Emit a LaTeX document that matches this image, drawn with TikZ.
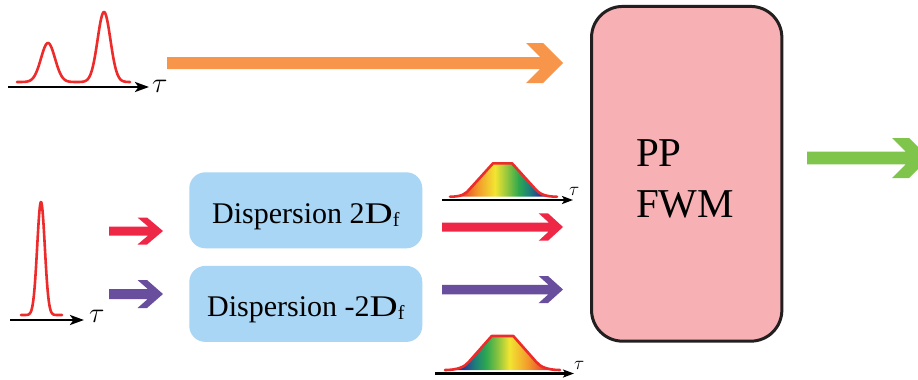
\documentclass[tikz,border=0pt]{standalone}
\usepackage{fontspec}
\usepackage{graphicx}
\usetikzlibrary{calc,arrows.meta}
\setmainfont{Liberation Serif}

\definecolor{pulseRed}{HTML}{EE2B2B}
\definecolor{beamOrange}{HTML}{F7964A}
\definecolor{beamRed}{HTML}{EE2747}
\definecolor{beamPurple}{HTML}{6A4E9E}
\definecolor{beamGreen}{HTML}{7FC44B}
\definecolor{boxBlue}{HTML}{A9D6F4}
\definecolor{boxPink}{HTML}{F7B1B4}
\definecolor{edgeDark}{HTML}{231F20}
\definecolor{rbRed}{HTML}{E63A2A}
\definecolor{rbOrange}{HTML}{F39A2C}
\definecolor{rbYellow}{HTML}{F2E531}
\definecolor{rbLime}{HTML}{8CC43F}
\definecolor{rbGreen}{HTML}{2FA84F}
\definecolor{rbTeal}{HTML}{1C7F7A}
\definecolor{rbBlue}{HTML}{2A3A92}

% spectral fills for the chirped pulses
\pgfdeclarehorizontalshading{warmtocool}{100bp}{color(0bp)=(rbRed); color(30bp)=(rbRed);
  color(38bp)=(rbOrange); color(46bp)=(rbYellow); color(52bp)=(rbLime); color(57bp)=(rbGreen);
  color(62bp)=(rbTeal); color(67bp)=(rbBlue); color(100bp)=(rbBlue)}
\pgfdeclarehorizontalshading{cooltowarm}{100bp}{color(0bp)=(rbBlue); color(33bp)=(rbBlue);
  color(38bp)=(rbTeal); color(43bp)=(rbGreen); color(48bp)=(rbLime); color(53bp)=(rbYellow);
  color(61bp)=(rbOrange); color(69bp)=(rbRed); color(100bp)=(rbRed)}

% thick beam arrow with a chevron head:
% #1 colour, #2 tail, #3 tip, #4 shaft width, #5 head half-height, #6 head run, #7 arm width
\newcommand\fatarrow[7]{%
  \fill[#1] ($(#2)+(0,-#4/2)$)
    -- ($(#3)+({-#7-#6*#4/(2*#5)},-#4/2)$)
    -- ($(#3)+({-#6-#7},-#5)$)
    -- ($(#3)+(-#6,-#5)$)
    -- (#3)
    -- ($(#3)+(-#6,#5)$)
    -- ($(#3)+({-#6-#7},#5)$)
    -- ($(#3)+({-#7-#6*#4/(2*#5)},#4/2)$)
    -- ($(#2)+(0,#4/2)$) -- cycle;}

% flat-topped chirped pulse outline: #1 left end, #2 right end, #3 baseline y, #4 top y,
% #5 left top corner x, #6 right top corner x
\newcommand\chirpoutline[6]{%
  (#1,#3) .. controls ({#1+12},#3) and ({#5-27},{#3-3}) .. ({#5-23},{#3-8})
  -- (#5,#4) -- (#6,#4) -- ({#6+23},{#3-8})
  .. controls ({#6+27},{#3-3}) and ({#2-12},#3) .. (#2,#3)}

\begin{document}
\begin{tikzpicture}[x=1pt,y=-1pt,
  pulseline/.style={pulseRed,line width=2.6pt,line join=round,line cap=round},
  bigaxis/.style={black,line width=2.8pt,-{Stealth[length=14pt,width=10pt,inset=3.5pt]}},
  smallaxis/.style={black,line width=2.2pt,-{Stealth[length=11pt,width=8pt,inset=2.5pt]}},
  taulabel/.style={anchor=base west,inner sep=0pt},
  bluebox/.style={fill=boxBlue,rounded corners=16pt,minimum width=233pt,minimum height=76pt,
    inner sep=0pt,text height=26pt,text depth=0pt,
    font=\fontsize{30}{30}\selectfont},
  fwmbox/.style={fill=boxPink,draw=edgeDark,line width=3pt,rounded corners=31pt,
    minimum width=190.3pt,minimum height=334.7pt,inner sep=0pt}]

\useasboundingbox (0,0) rectangle (918,380);
\clip (0,0) rectangle (918,380);
\fill[white] (0,0) rectangle (918,380);

% ---- pulse pair, top left ----
\coordinate (axA0) at (8,87);
\coordinate (axA1) at (149,87);
\draw[pulseline] plot[domain=17:130,samples=160]
  (\x,{82-39*exp(-(\x-48)*(\x-48)/98)-70*exp(-(\x-104)*(\x-104)/82)});
\draw[bigaxis] (axA0) -- (axA1);
\node[taulabel,font=\fontsize{26}{26}\selectfont] (tauA) at (152,92) {\scalebox{1.15}{$\tau$}};

% ---- single short pulse, left ----
\coordinate (axB0) at (10,320);
\coordinate (axB1) at (84,320);
\draw[pulseline] plot[domain=21:62,samples=160]
  (\x,{315-113*exp(-(\x-41)*(\x-41)/29)});
\draw[bigaxis] (axB0) -- (axB1);
\node[taulabel,font=\fontsize{26}{26}\selectfont] (tauB) at (89,322) {\scalebox{1.15}{$\tau$}};

% ---- dispersion stages ----
\node[bluebox] (disp1) at (305.8,210.3)
  {Dispersion 2\scalebox{1.3}[1]{D}\raisebox{-3pt}{\fontsize{20}{20}\selectfont f}};
\node[bluebox] (disp2) at (305.8,303.9)
  {Dispersion -2\scalebox{1.3}[1]{D}\raisebox{-3pt}{\fontsize{20}{20}\selectfont f}};

% ---- FWM stage ----
\node[fwmbox] (fwm) at (686.7,173.8) {};
\node[align=left,inner sep=0pt,font=\fontsize{41}{50.6}\selectfont]
  (fwmtext) at (685,178.7) {PP\\FWM};

% ---- beams ----
\coordinate (orgT) at (167,63);   \coordinate (orgH) at (563,63);
\coordinate (redT) at (109,231);  \coordinate (redH) at (163,231);
\coordinate (purT) at (109,294);  \coordinate (purH) at (163,294);
\coordinate (red2T) at (442,227); \coordinate (red2H) at (563,227);
\coordinate (pur2T) at (442,289.5); \coordinate (pur2H) at (563,289.5);
\coordinate (grnT) at (807,158);  \coordinate (grnH) at (929,158);
\fatarrow{beamOrange}{orgT}{orgH}{12}{20}{20}{17}
\fatarrow{beamRed}{redT}{redH}{9}{13.5}{16}{9.5}
\fatarrow{beamPurple}{purT}{purH}{10}{14}{16}{9.5}
\fatarrow{beamRed}{red2T}{red2H}{9}{13.7}{15}{9.3}
\fatarrow{beamPurple}{pur2T}{pur2H}{9.5}{13.5}{15}{9.3}
\fatarrow{beamGreen}{grnT}{grnH}{12.6}{20}{20}{17}

% ---- chirped pulse after +2Df ----
\shade[shading=warmtocool] \chirpoutline{450}{557}{196.7}{163.3}{493}{512} -- cycle;
\draw[pulseline] \chirpoutline{450}{557}{196.7}{163.3}{493}{512};
\coordinate (axC0) at (442,200);
\coordinate (axC1) at (573,200);
\draw[smallaxis] (axC0) -- (axC1);
\node[taulabel,font=\fontsize{17}{17}\selectfont] (tauC) at (569,195) {\scalebox{1.1}{$\tau$}};

% ---- chirped pulse after -2Df ----
\shade[shading=cooltowarm] \chirpoutline{445}{560}{370}{336}{491.7}{513.3} -- cycle;
\draw[pulseline] \chirpoutline{445}{560}{370}{336}{491.7}{513.3};
\coordinate (axD0) at (435,373.5);
\coordinate (axD1) at (574,373.5);
\draw[smallaxis] (axD0) -- (axD1);
\node[taulabel,font=\fontsize{17}{17}\selectfont] (tauD) at (574,369) {\scalebox{1.1}{$\tau$}};

\end{tikzpicture}
\end{document}
